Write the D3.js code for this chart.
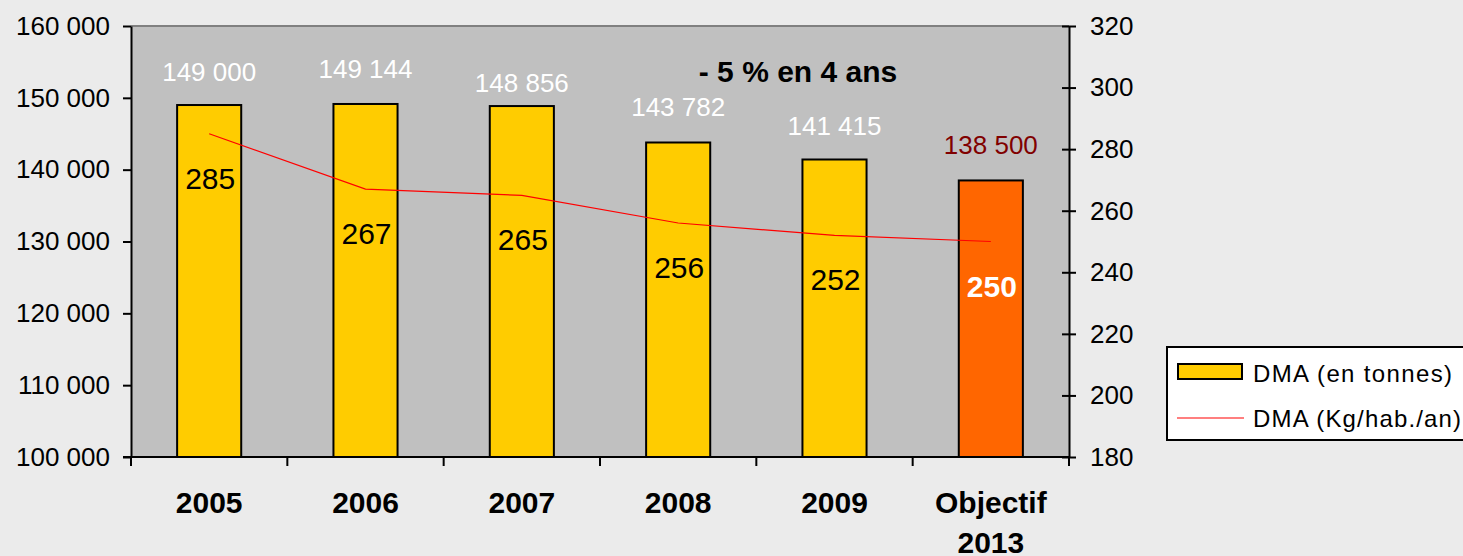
<!DOCTYPE html>
<html>
<head>
<meta charset="utf-8">
<script src="https://cdn.jsdelivr.net/npm/d3@7"></script>
<style>
  body { margin: 0; background: #ebebeb; }
  svg { display: block; font-family: Arial, "Liberation Sans", sans-serif; }
</style>
</head>
<body>
<div id="chart"></div>
<script>
// data
var categories = ['2005', '2006', '2007', '2008', '2009', 'Objectif 2013'];
var tonnes = [149000, 149144, 148856, 143782, 141415, 138500];
var kgHab = [285, 267, 265, 256, 252, 250];
var leftTicks = [100000, 110000, 120000, 130000, 140000, 150000, 160000];
var rightTicks = [180, 200, 220, 240, 260, 280, 300, 320];

// small nudges of the tonnage labels, as placed in the original
var labelNudge = [-1, -3, 9, -3, -2, -3];

var svgWidth = 1463;
var svgHeight = 556;
var plot = { left: 131, right: 1069, top: 26, bottom: 457 };

var fr = d3.formatLocale({ decimal: ',', thousands: '\u00a0', grouping: [3], currency: ['', ''] });
var fmt = fr.format(',');

var svg = d3.select('#chart').append('svg')
    .attr('width', svgWidth)
    .attr('height', svgHeight);

svg.append('rect')
    .attr('width', svgWidth).attr('height', svgHeight)
    .attr('fill', '#ebebeb');

// scales
var x = d3.scaleBand()
    .domain(categories)
    .range([plot.left, plot.right])
    .paddingInner(0.59)
    .paddingOuter(0.295);

var xEdge = d3.scaleBand()
    .domain(categories)
    .range([plot.left, plot.right])
    .padding(0);

var yLeft = d3.scaleLinear()
    .domain([100000, 160000])
    .range([plot.bottom, plot.top]);

var yRight = d3.scaleLinear()
    .domain([180, 320])
    .range([plot.bottom, plot.top]);

// plot area
svg.append('rect')
    .attr('x', plot.left).attr('y', plot.top)
    .attr('width', plot.right - plot.left)
    .attr('height', plot.bottom - plot.top)
    .attr('fill', '#c0c0c0');
svg.append('line')
    .attr('x1', plot.left).attr('x2', plot.right)
    .attr('y1', plot.top).attr('y2', plot.top)
    .attr('stroke', '#808080').attr('stroke-width', 2);

// bars
svg.selectAll('.bar')
    .data(tonnes)
    .enter()
    .append('rect')
    .attr('class', 'bar')
    .attr('x', (d, i) => x(categories[i]))
    .attr('y', d => yLeft(d))
    .attr('width', x.bandwidth())
    .attr('height', d => plot.bottom - yLeft(d))
    .attr('fill', (d, i) => i === categories.length - 1 ? '#ff6600' : '#ffcc00')
    .attr('stroke', '#000')
    .attr('stroke-width', 2);

// tonnage labels
svg.selectAll('.tLabel')
    .data(tonnes)
    .enter()
    .append('text')
    .attr('class', 'tLabel')
    .attr('x', (d, i) => x(categories[i]) + x.bandwidth() / 2)
    .attr('y', (d, i) => yLeft(d) - 23 + labelNudge[i])
    .attr('text-anchor', 'middle')
    .attr('font-size', '26px')
    .attr('fill', (d, i) => i === categories.length - 1 ? '#800000' : '#ffffff')
    .text(d => fmt(d));

// kg line
var line = d3.line()
    .x((d, i) => x(categories[i]) + x.bandwidth() / 2)
    .y(d => yRight(d));

svg.append('path')
    .datum(kgHab)
    .attr('d', line)
    .attr('fill', 'none')
    .attr('stroke', '#ff0000')
    .attr('stroke-width', 1.2);

svg.selectAll('.kLabel')
    .data(kgHab)
    .enter()
    .append('text')
    .attr('class', 'kLabel')
    .attr('x', (d, i) => x(categories[i]) + x.bandwidth() / 2 + 1)
    .attr('y', d => yRight(d) + 55)
    .attr('text-anchor', 'middle')
    .attr('font-size', '30px')
    .attr('font-weight', (d, i) => i === categories.length - 1 ? 'bold' : 'normal')
    .attr('fill', (d, i) => i === categories.length - 1 ? '#ffffff' : '#000000')
    .text(d => d);

// annotation
svg.append('text')
    .attr('x', 798)
    .attr('y', 82)
    .attr('text-anchor', 'middle')
    .attr('font-size', '30px')
    .attr('font-weight', 'bold')
    .attr('fill', '#000')
    .text('- 5 % en 4 ans');

// left axis
var leftAxis = d3.axisLeft(yLeft)
    .tickValues(leftTicks)
    .tickFormat(fmt)
    .tickSize(8)
    .tickSizeOuter(0)
    .tickPadding(13);

var gLeft = svg.append('g')
    .attr('transform', `translate(${plot.left}, 0)`)
    .call(leftAxis);
gLeft.selectAll('text').attr('font-size', '26px').attr('fill', '#000')
    .style('font-family', 'Arial, "Liberation Sans", sans-serif');
gLeft.selectAll('line, path').attr('stroke', '#000').attr('stroke-width', 2);

// right axis
var rightAxis = d3.axisRight(yRight)
    .tickValues(rightTicks)
    .tickSize(7)
    .tickSizeOuter(0)
    .tickPadding(14);

var gRight = svg.append('g')
    .attr('transform', `translate(${plot.right}, 0)`)
    .call(rightAxis);
gRight.selectAll('.tick line').attr('x1', -7);
gRight.selectAll('text').attr('font-size', '26px').attr('fill', '#000')
    .style('font-family', 'Arial, "Liberation Sans", sans-serif');
gRight.selectAll('line, path').attr('stroke', '#000').attr('stroke-width', 2);

// bottom axis
svg.append('line')
    .attr('x1', plot.left - 8).attr('x2', plot.right)
    .attr('y1', plot.bottom).attr('y2', plot.bottom)
    .attr('stroke', '#000').attr('stroke-width', 2);

var edges = categories.map(c => xEdge(c)).concat([plot.right]);
svg.selectAll('.xTick')
    .data(edges)
    .enter()
    .append('line')
    .attr('class', 'xTick')
    .attr('x1', d => d).attr('x2', d => d)
    .attr('y1', plot.bottom).attr('y2', plot.bottom + 9)
    .attr('stroke', '#000').attr('stroke-width', 2);

var xLabels = svg.selectAll('.xLabel')
    .data(categories)
    .enter()
    .append('text')
    .attr('class', 'xLabel')
    .attr('x', d => x(d) + x.bandwidth() / 2)
    .attr('y', 513)
    .attr('text-anchor', 'middle')
    .attr('font-size', '30px')
    .attr('font-weight', 'bold')
    .attr('fill', '#000');

xLabels.each(function(d) {
    var words = d.split(' ');
    var t = d3.select(this);
    var cx = t.attr('x');
    words.forEach(function(w, j) {
        t.append('tspan')
            .attr('x', cx)
            .attr('dy', j === 0 ? 0 : 40)
            .text(w);
    });
});

// legend
var legend = svg.append('g');
legend.append('rect')
    .attr('x', 1167).attr('y', 347)
    .attr('width', 310).attr('height', 93)
    .attr('fill', '#fff')
    .attr('stroke', '#000').attr('stroke-width', 2);
legend.append('rect')
    .attr('x', 1178).attr('y', 364)
    .attr('width', 64).attr('height', 15)
    .attr('fill', '#ffcc00')
    .attr('stroke', '#000').attr('stroke-width', 2);
legend.append('line')
    .attr('x1', 1177).attr('x2', 1244)
    .attr('y1', 418).attr('y2', 418)
    .attr('stroke', '#ff0000').attr('stroke-width', 1.2);
legend.append('text')
    .attr('x', 1253).attr('y', 382)
    .attr('font-size', '24px')
    .attr('textLength', 199)
    .attr('lengthAdjust', 'spacing')
    .text('DMA (en tonnes)');
legend.append('text')
    .attr('x', 1253).attr('y', 427)
    .attr('font-size', '24px')
    .attr('textLength', 208)
    .attr('lengthAdjust', 'spacing')
    .text('DMA (Kg/hab./an)');
</script>
</body>
</html>
